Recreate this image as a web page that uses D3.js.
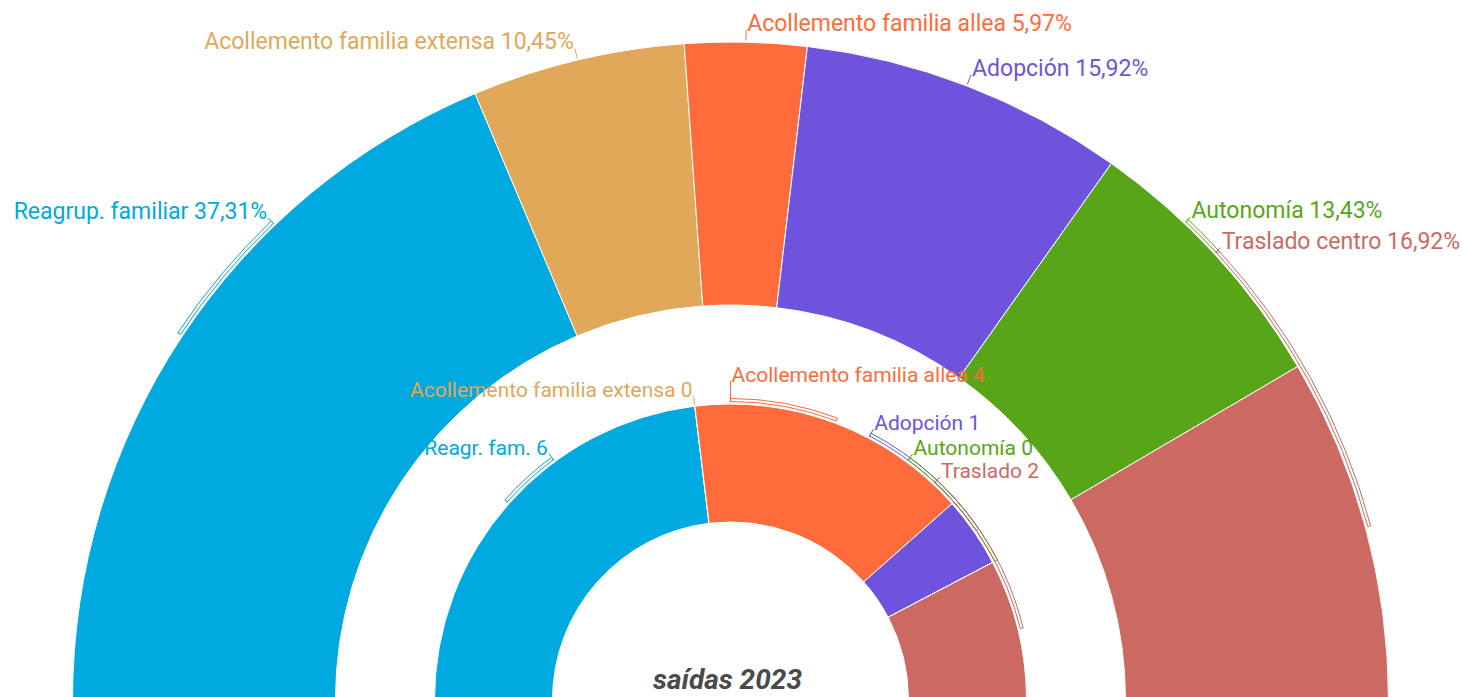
<!DOCTYPE html>
<html>
<head>
<meta charset="utf-8">
<script src="https://cdn.jsdelivr.net/npm/d3@7"></script>
<style>
  html, body { margin: 0; padding: 0; background: #fff; overflow: hidden; }
  svg { display: block; font-family: Roboto, "Noto Sans", sans-serif; }
</style>
</head>
<body>
<div id="chart"></div>
<script>
// --- data ---
var outerNames  = ["Reagrup. familiar", "Acollemento familia extensa", "Acollemento familia allea", "Adopción", "Autonomía", "Traslado centro"];
var outerValues = [37.31, 10.45, 5.97, 15.92, 13.43, 16.92];
var innerNames  = ["Reagr. fam.", "Acollemento familia extensa", "Acollemento familia allea", "Adopción", "Autonomía", "Traslado"];
var innerValues = [6, 0, 4, 1, 0, 2];
var colors = ["#00a9e0", "#e0a858", "#ff6b3a", "#6e54dc", "#58a518", "#cc6963"];
var centerTitle = "saídas 2023";

// label layout: angle in degrees from 12 o'clock (null = middle of slice), and label radius
var outerLabelAngle = [-43.8, null, null, null, 43.6, 47.3];
var outerLabelR     = [668, 670, 670, 670, 667, 667];
var innerLabelAngle = [-36.4, null, 0, 27.8, 36.5, 43.2];
var innerLabelR     = [306, 306, 319, 306, 306, 306];

var width = 1463, height = 697;
var cx = 730.5, cy = 700;

var svg = d3.select("#chart").append("svg")
    .attr("width", width)
    .attr("height", height);

var g = svg.append("g").attr("transform", "translate(" + cx + "," + cy + ")");

var pie = d3.pie()
    .sort(null)
    .startAngle(-Math.PI / 2)
    .endAngle(Math.PI / 2)
    .value(function(d) { return d; });

var fmt = function(v) { return String(v.toFixed(2)).replace(".", ","); };

function drawRing(values, names, r0, r1, labelAngle, labelR, fontSize, labelText) {
  var arcs = pie(values);
  var arc = d3.arc().innerRadius(r0).outerRadius(r1);

  g.append("g").selectAll("path")
    .data(arcs)
    .enter().append("path")
      .attr("d", arc)
      .attr("fill", function(d, i) { return colors[i]; })
      .attr("stroke", "#fff")
      .attr("stroke-width", 1);

  var lab = g.append("g");
  arcs.forEach(function(d, i) {
    var mid = (d.startAngle + d.endAngle) / 2;
    var a = labelAngle[i] == null ? mid : labelAngle[i] * Math.PI / 180;
    var col = colors[i];

    // bracket from slice middle to label position
    if (Math.abs(a - mid) > 0.002) {
      lab.append("path")
        .attr("d", d3.arc()
          .innerRadius(r1 + 2.5)
          .outerRadius(r1 + 5.5)
          .startAngle(Math.min(a, mid))
          .endAngle(Math.max(a, mid))())
        .attr("fill", "none")
        .attr("stroke", col)
        .attr("stroke-width", 1);
    }

    var rl = labelR[i];
    lab.append("line")
      .attr("x1", Math.sin(a) * (r1 + 1.5)).attr("y1", -Math.cos(a) * (r1 + 1.5))
      .attr("x2", Math.sin(a) * rl).attr("y2", -Math.cos(a) * rl)
      .attr("stroke", col)
      .attr("stroke-width", 1);

    lab.append("text")
      .attr("x", Math.sin(a) * rl + (a < 0 ? -1 : 1))
      .attr("y", -Math.cos(a) * rl + 1)
      .attr("text-anchor", a < 0 ? "end" : "start")
      .attr("fill", col)
      .style("font-size", fontSize + "px")
      .text(labelText(names[i], values[i]));
  });
}

drawRing(outerValues, outerNames, 395, 658, outerLabelAngle, outerLabelR, 23,
  function(n, v) { return n + " " + fmt(v) + "%"; });
drawRing(innerValues, innerNames, 178, 296, innerLabelAngle, innerLabelR, 21,
  function(n, v) { return n + " " + v; });

g.append("text")
  .attr("x", -3)
  .attr("y", -11)
  .attr("text-anchor", "middle")
  .attr("fill", "#4a4a4a")
  .style("font-size", "28px")
  .style("font-weight", "bold")
  .style("font-style", "italic")
  .text(centerTitle);
</script>
</body>
</html>
